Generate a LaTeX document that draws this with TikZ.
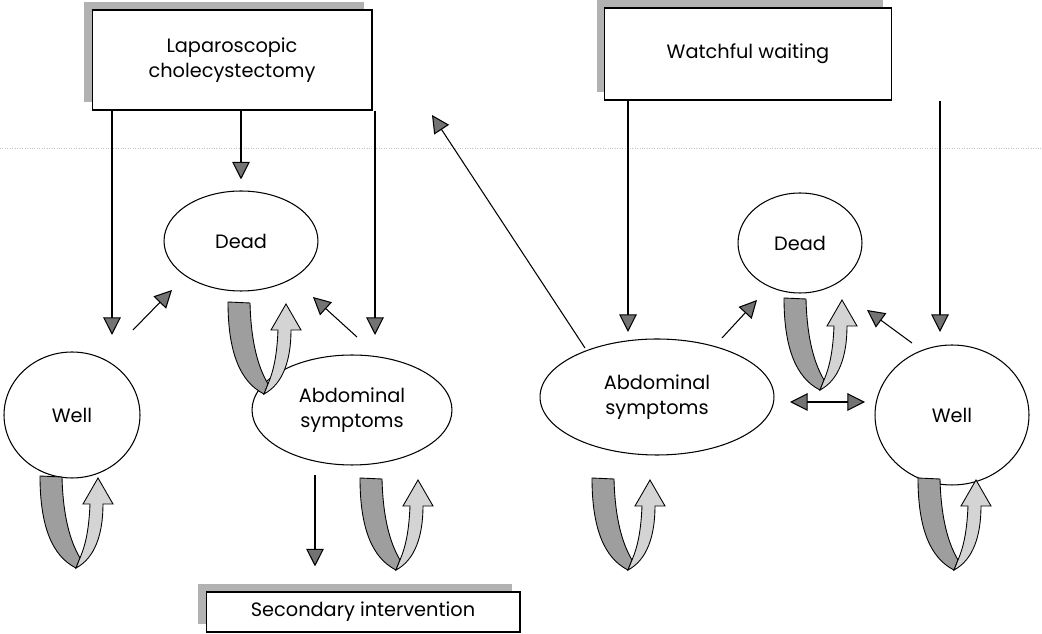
\documentclass[tikz,border=0pt]{standalone}
\usepackage{fontspec}
\setmainfont{Poppins}
\usepackage{tikz}
\usetikzlibrary{shapes.geometric,arrows.meta,shadows,calc}

\tikzset{
  plan/.style={draw, fill=white, line width=0.6pt, align=center, font=\fontsize{11}{14.5}\selectfont,
    drop shadow={shadow xshift=-0.16cm, shadow yshift=0.16cm, fill=black!30, opacity=1}},
  state/.style={ellipse, draw, line width=0.6pt, inner sep=0pt, align=center, font=\fontsize{11}{14.5}\selectfont},
  link/.style={line width=0.6pt, -{Triangle[length=10pt,width=10pt,fill=black!55]}},
  twoway/.style={line width=0.6pt, {Triangle[length=10pt,width=10pt,fill=black!55]}-{Triangle[length=10pt,width=10pt,fill=black!55]}},
  backarm/.style={draw, line width=0.5pt, fill=black!38},
  frontarm/.style={draw, line width=0.5pt, fill=black!17}
}

\begin{document}
\begin{tikzpicture}[x=0.02cm, y=-0.02cm]
\useasboundingbox (0,0) rectangle (1042,634);
\draw[gray!45, densely dotted] (0,148) -- (1042,148);

\node[plan, minimum width=5.6cm, minimum height=2cm] (lapbox) at (232,60) {Laparoscopic\\cholecystectomy};
\node[plan, minimum width=5.74cm, minimum height=1.84cm] (waitbox) at (748,54) {Watchful waiting};
\node[plan, minimum width=6.28cm, minimum height=0.8cm] (secbox) at (363,612) {Secondary intervention};

\node[state, minimum width=3.08cm, minimum height=2cm] (deadL) at (241,241) {Dead};
\node[state, minimum width=2.72cm, minimum height=2.52cm] (wellL) at (72,415) {Well};
\node[state, minimum width=4cm, minimum height=2.2cm] (abdL) at (352,410) {Abdominal\\symptoms};
\node[state, minimum width=4.68cm, minimum height=2.32cm] (abdR) at (657,397) {Abdominal\\symptoms};
\node[state, minimum width=2.48cm, minimum height=2cm] (deadR) at (800,243) {Dead};
\node[state, minimum width=3.08cm, minimum height=2.8cm] (wellR) at (952,415) {Well};

\coordinate (wl in) at (112,335);
\coordinate (al in) at (375,335);
\coordinate (ar in) at (628,332);
\coordinate (wr in) at (940,332);
\coordinate (back) at (432,115);

\draw[link] (lapbox.south -| wl in) -- (wl in);
\draw[link] (lapbox.south -| deadL.north) -- ([yshift=0.22cm]deadL.north);
\draw[link] (lapbox.south -| al in) -- (al in);
\draw[link] (waitbox.south -| ar in) -- (ar in);
\draw[link] (waitbox.south -| wr in) -- (wr in);

\draw[link] ([shift={(61,-85)}]wellL.center) -- ([shift={(-69,49)}]deadL.center);
\draw[link] ([shift={(5,-73)}]abdL.center) -- ([shift={(72,56)}]deadL.center);
\draw[link] ([shift={(-72,-49)}]abdR.center) -- (back);
\draw[link] ([shift={(65,-59)}]abdR.center) -- ([shift={(-43,57)}]deadR.center);
\draw[link] ([shift={(-40,-72)}]wellR.center) -- ([shift={(67,67)}]deadR.center);
\draw[twoway] ([shift={(133,5)}]abdR.center) -- ([shift={(-87,-13)}]wellR.center);
\draw[link] ([shift={(-37,65)}]abdL.center) -- ([shift={(-48,-25)}]secbox.north);

\foreach \ux/\uy in {228/302, 40/476, 360/478, 592/478, 784/298, 918/478}{
  \begin{scope}[shift={(\ux,\uy)}]
  \filldraw[backarm] (0,0) -- (22,1) .. controls (23,40) and (30,65) .. (40,82) -- (36,92) .. controls (12,80) and (0,50) .. cycle;
  \filldraw[frontarm] (36,92) .. controls (55,82) and (63,58) .. (63,28) -- (73,28) -- (58,2) -- (43,28) -- (50,28) .. controls (49,52) and (46,68) .. (40,82) -- cycle;
  \end{scope}
}
\end{tikzpicture}
\end{document}
